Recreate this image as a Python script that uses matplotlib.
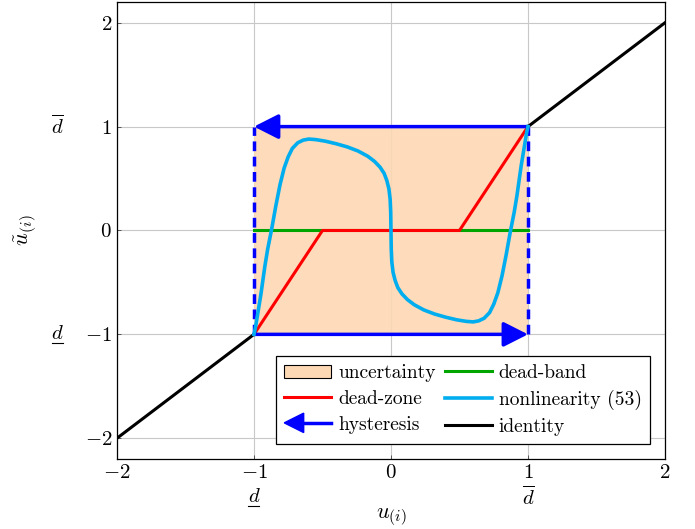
import matplotlib
matplotlib.use("Agg")
import matplotlib.pyplot as plt
import numpy as np
from matplotlib.patches import Patch, Polygon
from matplotlib.lines import Line2D
from matplotlib.legend_handler import HandlerBase
from matplotlib.transforms import IdentityTransform

plt.rcParams['mathtext.fontset'] = 'cm'
plt.rcParams['font.family'] = 'serif'
plt.rcParams['font.serif'] = ['cmr10']
plt.rcParams['axes.formatter.use_mathtext'] = True

# data
d_lo, d_hi = -1.0, 1.0
identity_x = [-2, -1, np.nan, 1, 2]
identity_y = [-2, -1, np.nan, 1, 2]
deadzone_x = [-1, -0.5, 0.5, 1]
deadzone_y = [-1, 0, 0, 1]
deadband_x = [-1, 1]
deadband_y = [0, 0]
# nonlinearity (53), left half, right half is the odd mirror
nl_left_x = [-1.0, -0.99, -0.98, -0.965, -0.95, -0.935, -0.92, -0.90, -0.87, -0.84, -0.81,
             -0.78, -0.75, -0.72, -0.68, -0.64, -0.60, -0.55, -0.48, -0.40, -0.32, -0.24,
             -0.17, -0.12, -0.08, -0.05, -0.03, -0.015, -0.006, -0.002, 0.0]
nl_left_y = [-1.0, -0.94, -0.86, -0.74, -0.62, -0.48, -0.34, -0.18, 0.02, 0.24, 0.44,
             0.60, 0.71, 0.79, 0.845, 0.87, 0.88, 0.875, 0.86, 0.835, 0.805, 0.765,
             0.715, 0.665, 0.61, 0.55, 0.48, 0.40, 0.30, 0.18, 0.0]
nl_x = nl_left_x + [-v for v in nl_left_x[::-1][1:]]
nl_y = nl_left_y + [-v for v in nl_left_y[::-1][1:]]

xticks = [-2, -1, 0, 1, 2]
xtick_labels = ['$-2$', '$-1$', '$0$', '$1$', '$2$']
yticks = [-2, -1, 0, 1, 2]
ytick_labels = ['$-2$', '$-1$', '$0$', '$1$', '$2$']

c_fill = '#fdd8b4'
c_blue = '#0000ff'
c_red = '#ff0000'
c_green = '#00a500'
c_cyan = '#00aeef'

fig = plt.figure(figsize=(6.95, 5.29), dpi=100)
ax = fig.add_axes([0.1683, 0.1323, 0.7885, 0.864])

ax.set_xlim(-2, 2)
ax.set_ylim(-2.2, 2.2)
ax.set_xticks(xticks)
ax.set_xticklabels(xtick_labels, fontsize=15)
ax.set_yticks(yticks)
ax.set_yticklabels(ytick_labels, fontsize=15)
ax.tick_params(direction='in', length=3, width=0.6, color='#444444')
ax.grid(True, color='#c8c8c8', lw=0.8)
ax.set_axisbelow(True)
for s in ax.spines.values():
    s.set_linewidth(0.9)

ax.plot(identity_x, identity_y, color='black', lw=2.2, zorder=3)
ax.fill_between([d_lo, d_hi], [d_lo, d_lo], [d_hi, d_hi], color=c_fill, alpha=0.9, lw=0, zorder=2)
ax.plot(deadband_x, deadband_y, color=c_green, lw=2.2, zorder=4)
ax.plot(deadzone_x, deadzone_y, color=c_red, lw=2.2, zorder=5)
ax.plot([d_lo, d_lo], [d_lo, d_hi], color=c_blue, lw=2.5, ls=(0, (2.8, 1.6)), zorder=6)
ax.plot([d_hi, d_hi], [d_lo, d_hi], color=c_blue, lw=2.5, ls=(0, (2.8, 1.6)), zorder=6)
arrow = dict(arrowstyle='-|>,head_length=0.75,head_width=0.38', color=c_blue, lw=2.5,
             mutation_scale=20, shrinkA=0, shrinkB=0)
ax.annotate('', xy=(d_lo, d_hi), xytext=(d_hi, d_hi), arrowprops=arrow, zorder=7)
ax.annotate('', xy=(d_hi, d_lo), xytext=(d_lo, d_lo), arrowprops=arrow, zorder=7)
ax.plot(nl_x, nl_y, color=c_cyan, lw=2.6, zorder=8, solid_joinstyle='round')


def under_d(x, y, trans):
    # mathtext has no \underline, so draw the bar by hand
    ax.text(x, y, '$d$', transform=trans, ha='center', va='center', fontsize=15)
    p = trans.transform((x, y))
    fig.add_artist(Line2D([p[0] - 5.5, p[0] + 5.5], [p[1] - 9, p[1] - 9],
                          transform=IdentityTransform(), color='black', lw=0.8))


# extra d labels
under_d(d_lo, -0.083, ax.get_xaxis_transform())
ax.text(d_hi, -0.083, r'$\overline{d}$', transform=ax.get_xaxis_transform(),
        ha='center', va='center', fontsize=15)
ax.text(-0.108, d_hi, r'$\overline{d}$', transform=ax.get_yaxis_transform(),
        ha='center', va='center', fontsize=15)
under_d(-0.108, d_lo, ax.get_yaxis_transform())
ax.set_xlabel(r'$u_{(i)}$', fontsize=16, labelpad=18)
ax.set_ylabel(r'$\tilde{u}_{(i)}$', fontsize=16, labelpad=33)


class ArrowHandler(HandlerBase):
    def create_artists(self, legend, orig_handle, xd, yd, width, height, fontsize, trans):
        y = height / 2 - yd
        line = Line2D([10, width], [y, y], color=c_blue, lw=2.5, transform=trans)
        head = Polygon([[0, y], [14, y + 7], [14, y - 7]], closed=True,
                       color=c_blue, transform=trans)
        return [line, head]


h_unc = Patch(facecolor=c_fill, edgecolor='black', lw=0.8)
h_dz = Line2D([], [], color=c_red, lw=2.2)
h_hy = Line2D([], [], color=c_blue, lw=2.5)
h_db = Line2D([], [], color=c_green, lw=2.2)
h_nl = Line2D([], [], color=c_cyan, lw=2.6)
h_id = Line2D([], [], color='black', lw=2.2)
leg = ax.legend([h_unc, h_dz, h_hy, h_db, h_nl, h_id],
                ['uncertainty', 'dead-zone', 'hysteresis', 'dead-band', 'nonlinearity (53)', 'identity'],
                handler_map={h_hy: ArrowHandler()}, ncol=2, loc='lower right',
                bbox_to_anchor=(0.9726, 0.0328), fontsize=14, fancybox=False, framealpha=1,
                edgecolor='black', handlelength=2.4, handletextpad=0.36, columnspacing=0.5,
                labelspacing=0.4, borderpad=0.42, borderaxespad=0)
leg.get_frame().set_linewidth(0.9)
leg.set_zorder(10)

fig.savefig('out.png', dpi=100)
